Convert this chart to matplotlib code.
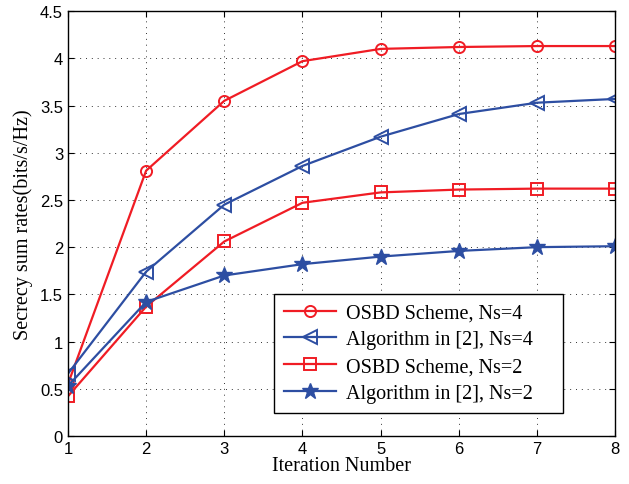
import matplotlib
matplotlib.use("Agg")
import matplotlib.pyplot as plt

iterations = [1, 2, 3, 4, 5, 6, 7, 8]
osbd_ns4 = [0.55, 2.81, 3.55, 3.97, 4.10, 4.12, 4.13, 4.13]
alg_ns4 = [0.66, 1.74, 2.45, 2.86, 3.17, 3.41, 3.53, 3.57]
osbd_ns2 = [0.42, 1.37, 2.06, 2.47, 2.58, 2.61, 2.62, 2.62]
alg_ns2 = [0.53, 1.42, 1.70, 1.82, 1.90, 1.96, 2.00, 2.01]

labels = ["OSBD Scheme, Ns=4", "Algorithm in [2], Ns=4",
          "OSBD Scheme, Ns=2", "Algorithm in [2], Ns=2"]

RED = "#f01c24"
BLUE = "#2d4ea2"
serif = ["Liberation Serif", "DejaVu Serif"]

fig = plt.figure(figsize=(6.29, 4.85), dpi=100)
ax = fig.add_axes([0.108, 0.099, 0.870, 0.876])

ax.plot(iterations, osbd_ns4, color=RED, lw=1.6, marker="o", ms=8,
        mfc="none", mew=1.4, label=labels[0])
ax.plot(iterations, alg_ns4, color=BLUE, lw=1.6, marker="<", ms=10,
        mfc="none", mew=1.4, label=labels[1])
ax.plot(iterations, osbd_ns2, color=RED, lw=1.6, marker="s", ms=8,
        mfc="none", mew=1.4, label=labels[2])
ax.plot(iterations, alg_ns2, color=BLUE, lw=1.6, marker="*", ms=12,
        mew=1.0, label=labels[3])

ax.set_xlim(1, 8)
ax.set_ylim(0, 4.5)
ax.set_xticks(iterations)
ax.set_yticks([0, 0.5, 1, 1.5, 2, 2.5, 3, 3.5, 4, 4.5])
ax.set_yticklabels(["0", "0.5", "1", "1.5", "2", "2.5", "3", "3.5", "4", "4.5"])
for lab in ax.get_xticklabels() + ax.get_yticklabels():
    lab.set_family(["Liberation Sans", "DejaVu Sans"])
    lab.set_fontsize(12)
ax.tick_params(direction="in", length=4, color="black", top=True, right=True)
ax.grid(True, color="black", linestyle=(0, (1, 5)), linewidth=0.7, alpha=0.8)
for s in ax.spines.values():
    s.set_linewidth(1.0)

ax.set_xlabel("Iteration Number", family=serif, fontsize=14.5, labelpad=0)
ax.set_ylabel("Secrecy sum rates(bits/s/Hz)", family=serif, fontsize=14.5, labelpad=5)

# MATLAB-style legend leaves extra room right of the text
handles, _ = ax.get_legend_handles_labels()
leg = ax.legend(handles, [l + "    " for l in labels],
                loc="lower right", bbox_to_anchor=(0.905, 0.054),
                borderaxespad=0, prop={"family": serif, "size": 14.5},
                fancybox=False, framealpha=1, edgecolor="black",
                handlelength=2.6, borderpad=0.5, labelspacing=0.38,
                handletextpad=0.5)
leg.get_frame().set_linewidth(1.0)

fig.savefig("out.png", dpi=100)
